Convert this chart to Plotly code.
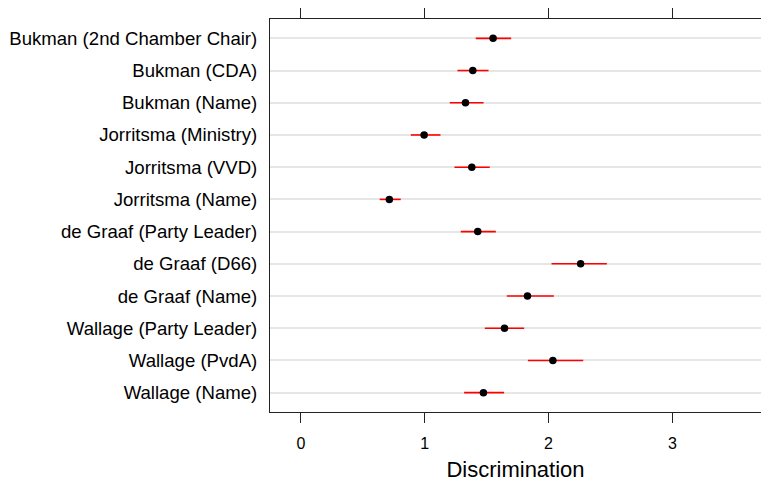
import plotly.graph_objects as go

# Categories listed bottom to top
labels = [
    "Wallage (Name)",
    "Wallage (PvdA)",
    "Wallage (Party Leader)",
    "de Graaf (Name)",
    "de Graaf (D66)",
    "de Graaf (Party Leader)",
    "Jorritsma (Name)",
    "Jorritsma (VVD)",
    "Jorritsma (Ministry)",
    "Bukman (Name)",
    "Bukman (CDA)",
    "Bukman (2nd Chamber Chair)",
]
estimate = [1.474, 2.035, 1.644, 1.830, 2.259, 1.428, 0.714, 1.380, 0.995, 1.329, 1.388, 1.552]
lower    = [1.318, 1.833, 1.485, 1.663, 2.024, 1.291, 0.636, 1.240, 0.887, 1.202, 1.264, 1.412]
upper    = [1.641, 2.280, 1.803, 2.043, 2.471, 1.574, 0.806, 1.525, 1.127, 1.475, 1.515, 1.698]

x_ticks = [0, 1, 2, 3]

err_plus = [u - e for u, e in zip(upper, estimate)]
err_minus = [e - l for e, l in zip(estimate, lower)]

FONT = "Liberation Sans, Arial, Helvetica, sans-serif"

fig = go.Figure()
fig.add_trace(go.Scatter(
    x=estimate, y=labels, mode="markers",
    marker=dict(color="black", size=7.5),
    error_x=dict(type="data", symmetric=False, array=err_plus, arrayminus=err_minus,
                 color="red", thickness=1.6, width=0),
    showlegend=False,
))

fig.update_layout(
    width=761, height=482,
    margin=dict(l=270, r=0, t=19, b=70),
    paper_bgcolor="white", plot_bgcolor="white",
    font=dict(family=FONT, color="black"),
    xaxis=dict(
        range=[-0.25, 3.716],
        tickvals=x_ticks, ticktext=[str(t) for t in x_ticks],
        ticks="outside", ticklen=10, tickwidth=1, tickcolor="#222",
        showline=True, linecolor="#222", linewidth=1, mirror="allticks",
        showgrid=False, zeroline=False,
        tickfont=dict(size=16),
        ticklabelstandoff=7,
        title=dict(text="Discrimination", font=dict(size=22), standoff=14),
    ),
    yaxis=dict(
        type="category", categoryorder="array", categoryarray=labels,
        range=[-0.6, 11.6],
        ticks="", showline=True, linecolor="#222", linewidth=1, mirror=False,
        showgrid=True, gridcolor="#e6e6e6", gridwidth=1.5,
        zeroline=False,
        tickfont=dict(size=18.6),
        ticklabelstandoff=8,
    ),
)

fig.write_html("out.html")
